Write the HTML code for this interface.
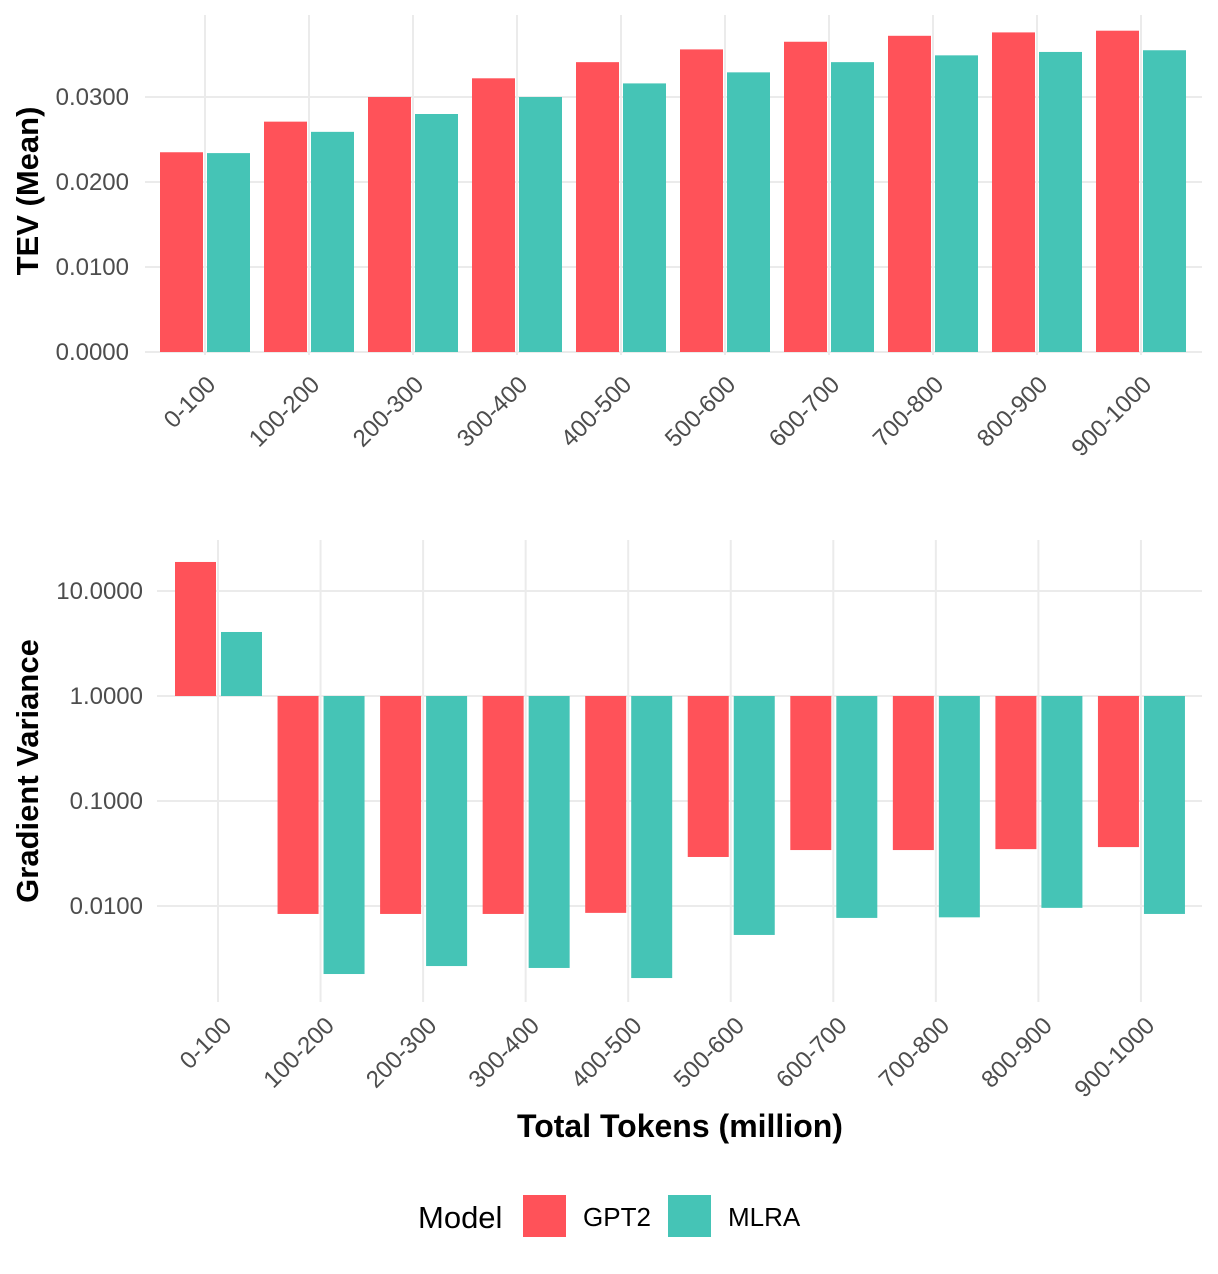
<!DOCTYPE html>
<html><head><meta charset="utf-8"><style>
html,body{margin:0;padding:0;background:#fff;}
svg{display:block;font-family:"Liberation Sans",Arial,sans-serif;}
</style></head><body>
<svg id="chart" width="1218" height="1274" viewBox="0 0 1218 1274"></svg>
<script>
const categories=["0-100","100-200","200-300","300-400","400-500","500-600","600-700","700-800","800-900","900-1000"];
const tevGPT2=[0.0235,0.0271,0.0300,0.0322,0.0341,0.0356,0.0365,0.0372,0.0376,0.0378];
const tevMLRA=[0.0234,0.0259,0.0280,0.0300,0.0316,0.0329,0.0341,0.0349,0.0353,0.0355];
const gvGPT2=[18.9,0.0084,0.0084,0.0084,0.0086,0.0293,0.0341,0.0341,0.0348,0.0364];
const gvMLRA=[4.07,0.00225,0.00268,0.00257,0.00206,0.0053,0.0077,0.0078,0.0096,0.0084];
const tevTicks=[0,0.01,0.02,0.03];
const tevTickLabels=["0.0000","0.0100","0.0200","0.0300"];
const gvTicks=[10,1,0.1,0.01];
const gvTickLabels=["10.0000","1.0000","0.1000","0.0100"];
const RED="#ff5259",TEAL="#45c4b6";
const svg=document.getElementById('chart');
const NS="http://www.w3.org/2000/svg";
function mk(tag,attrs,parent){const e=document.createElementNS(NS,tag);for(const k in attrs)e.setAttribute(k,attrs[k]);(parent||svg).appendChild(e);return e;}
const TICKFS=24;

// Top panel
const tg=mk('g',{});


const tx=i=>205+i*104;
const ty=v=>352-v*8500;
tevTicks.forEach((t,i)=>{
  const l=mk('line',{x1:145,x2:1202,y1:ty(t),y2:ty(t),stroke:'#ebebeb','stroke-width':2},tg);
  
  
  const tt=mk('text',{x:129,y:ty(t)+8,'text-anchor':'end','font-size':TICKFS,fill:'#4d4d4d'},tg);
  tt.textContent=tevTickLabels[i];
  
  
});
categories.forEach((c,i)=>{
  const l=mk('line',{x1:tx(i),x2:tx(i),y1:15,y2:355,stroke:'#ebebeb','stroke-width':2},tg);
  
  
});
categories.forEach((c,i)=>{
  const r1=mk('rect',{x:tx(i)-45,width:43,y:ty(tevGPT2[i]),height:ty(0)-ty(tevGPT2[i]),fill:RED},tg);
  
  
  const r2=mk('rect',{x:tx(i)+2,width:43,y:ty(tevMLRA[i]),height:ty(0)-ty(tevMLRA[i]),fill:TEAL},tg);
  
  
  const t=mk('text',{x:0,y:0,'text-anchor':'end','font-size':TICKFS,fill:'#4d4d4d',transform:`translate(${tx(i)+12},${386}) rotate(-45)`},tg);
  t.textContent=c;
  
  
});
const ytt=mk('text',{x:0,y:0,'text-anchor':'middle','font-size':31,'font-weight':'bold',fill:'#000',transform:'translate(38,191) rotate(-90)'},tg);
ytt.textContent='TEV (Mean)';



// Bottom panel
const bg=mk('g',{});


const bx=i=>218+i*102.55;
const by=v=>696-Math.log10(v)*105;
gvTicks.forEach((t,i)=>{
  const l=mk('line',{x1:157,x2:1202,y1:by(t),y2:by(t),stroke:'#ebebeb','stroke-width':2},bg);
  
  
  const tt=mk('text',{x:143,y:by(t)+8,'text-anchor':'end','font-size':TICKFS,fill:'#4d4d4d'},bg);
  tt.textContent=gvTickLabels[i];
  
  
});
categories.forEach((c,i)=>{
  const l=mk('line',{x1:bx(i),x2:bx(i),y1:540,y2:1002,stroke:'#ebebeb','stroke-width':2},bg);
  
  
});
function vbar(i,v,off,fill,name){
  const y0=by(1),y1=by(v);
  const r=mk('rect',{x:bx(i)+off,width:41,y:Math.min(y0,y1),height:Math.abs(y1-y0),fill:fill},bg);
  
  
}
categories.forEach((c,i)=>{
  vbar(i,gvGPT2[i],-43,RED,'gv-bar-gpt2');
  vbar(i,gvMLRA[i],3,TEAL,'gv-bar-mlra');
  const t=mk('text',{x:0,y:0,'text-anchor':'end','font-size':TICKFS,fill:'#4d4d4d',transform:`translate(${bx(i)+15},${1027}) rotate(-45)`},bg);
  t.textContent=c;
  
  
});
const ytb=mk('text',{x:0,y:0,'text-anchor':'middle','font-size':31,'font-weight':'bold',fill:'#000',transform:'translate(38,771) rotate(-90)'},bg);
ytb.textContent='Gradient Variance';


const xt=mk('text',{x:680,y:1137,'text-anchor':'middle','font-size':32,'font-weight':'bold',fill:'#000'},bg);
xt.textContent='Total Tokens (million)';



// Legend
const lg=mk('g',{});


const lt=mk('text',{x:418,y:1228,'font-size':31,fill:'#000'},lg);
lt.textContent='Model';


const k1=mk('rect',{x:523,y:1195,width:43,height:42,fill:RED},lg);


const l1=mk('text',{x:583,y:1226,'font-size':26,fill:'#000'},lg);
l1.textContent='GPT2';


const k2=mk('rect',{x:668,y:1195,width:43,height:42,fill:TEAL},lg);


const l2=mk('text',{x:728,y:1226,'font-size':26,fill:'#000'},lg);
l2.textContent='MLRA';


</script>
</body></html>
